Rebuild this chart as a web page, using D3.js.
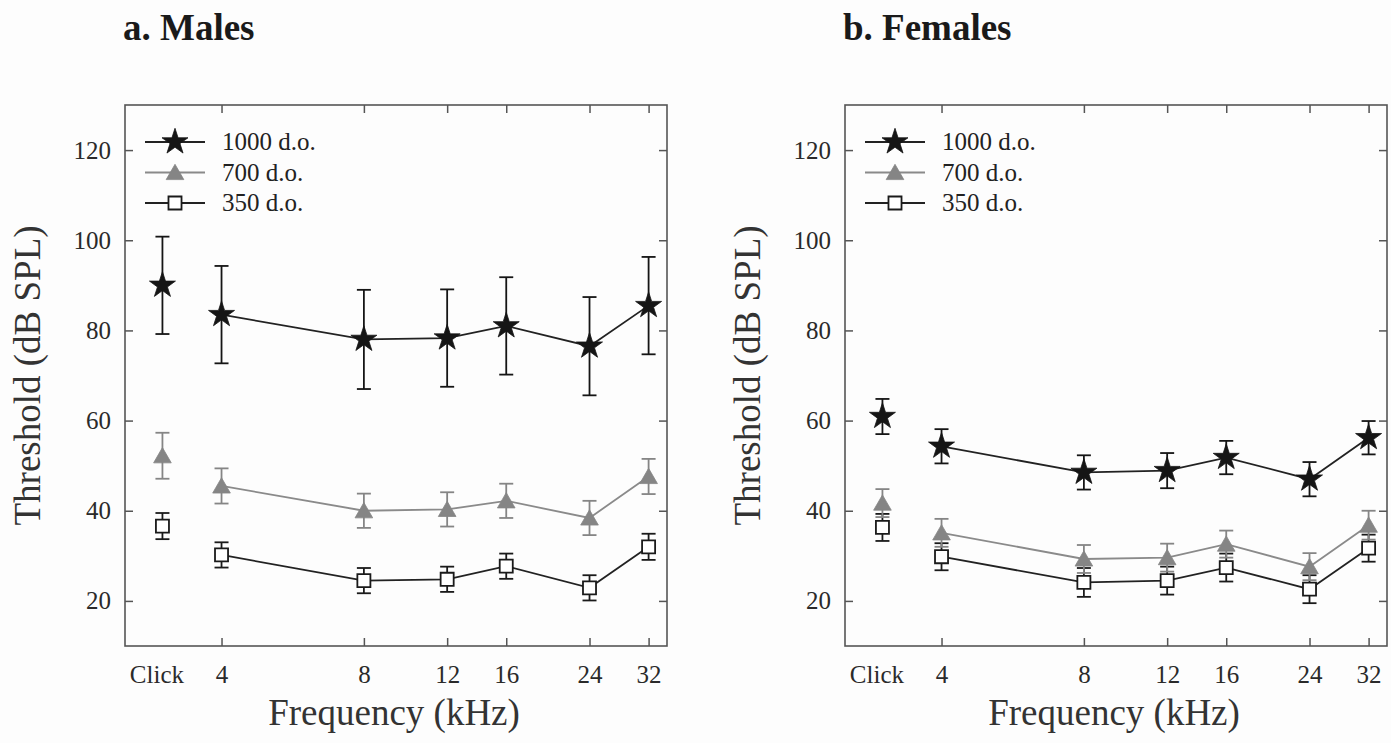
<!DOCTYPE html>
<html>
<head>
<meta charset="utf-8">
<script src="https://cdn.jsdelivr.net/npm/d3@7"></script>
<style>
  html, body { margin: 0; padding: 0; background: #fdfdfd; }
  svg { display: block; }
  text { font-family: 'Liberation Serif', 'Times New Roman', serif; }
</style>
</head>
<body>
<div id="chart"></div>
<script>
// frequencies (kHz); 'Click' sits left of 4 kHz
const FREQ_LABELS = ['Click', '4', '8', '12', '16', '24', '32']
const FREQ_KHZ = [null, 4, 8, 12, 16, 24, 32]
const Y_TICKS = [20, 40, 60, 80, 100, 120]
const SERIES_NAMES = ['1000 d.o.', '700 d.o.', '350 d.o.']

// males
const MALES_1000 = [90, 83.5, 78, 78.3, 81, 76.5, 85.5]
const MALES_1000_ERR = [10.8, 10.8, 11, 10.8, 10.8, 10.9, 10.8]
const MALES_700 = [52.2, 45.5, 40, 40.3, 42.2, 38.4, 47.6]
const MALES_700_ERR = [5.1, 3.9, 3.8, 3.8, 3.8, 3.8, 3.9]
const MALES_350 = [36.6, 30.2, 24.5, 24.8, 27.7, 22.9, 32]
const MALES_350_ERR = [2.9, 2.8, 2.8, 2.8, 2.8, 2.8, 2.9]

// females
const FEMALES_1000 = [60.9, 54.3, 48.5, 48.9, 51.8, 47, 56.2]
const FEMALES_1000_ERR = [3.9, 3.8, 3.8, 3.9, 3.7, 3.8, 3.7]
const FEMALES_700 = [41.7, 35.1, 29.3, 29.6, 32.6, 27.6, 36.8]
const FEMALES_700_ERR = [3.1, 3.1, 3.1, 3.1, 3.0, 3.0, 3.2]
const FEMALES_350 = [36.3, 29.8, 24.1, 24.5, 27.4, 22.6, 31.7]
const FEMALES_350_ERR = [3.0, 3.0, 3.2, 3.1, 3.1, 3.1, 3.0]

const W = 1391
const H = 743
const CLICK_AT = 3 // where the click column sits on the log axis
const PANEL_W = 542
const PANEL_H = 541
const TICK = 8

const STYLES = [
  { color: '#151515', line: '#222', fill: '#151515', symbol: d3.symbolStar, size: 210 },
  { color: '#858585', line: '#8a8a8a', fill: '#858585', symbol: d3.symbolTriangle, size: 135 },
  { color: '#1a1a1a', line: '#222', fill: '#fff', symbol: d3.symbolSquare, size: 170 }
]

const svg = d3.select('#chart')
  .append('svg')
  .attr('width', W)
  .attr('height', H)

svg.append('rect')
  .attr('width', W)
  .attr('height', H)
  .attr('fill', '#fdfdfd')

function drawPanel (left, title, series) {
  const top = 105
  const x = d3.scaleLog().base(2).domain([2.5, 35]).range([0, PANEL_W])
  const y = d3.scaleLinear().domain([10, 130]).range([PANEL_H, 0])
  const xPos = i => x(FREQ_KHZ[i] === null ? CLICK_AT : FREQ_KHZ[i])

  svg.append('text')
    .attr('x', left - 2)
    .attr('y', 40)
    .attr('font-size', 37)
    .attr('font-weight', 'bold')
    .attr('fill', '#1a1a1a')
    .text(title)

  const g = svg.append('g')
    .attr('transform', `translate(${left}, ${top})`)

  // axes, ticks pointing inward
  const bottom = g.append('g')
    .attr('transform', `translate(0, ${PANEL_H})`)
    .call(d3.axisBottom(x)
      .tickValues(FREQ_KHZ.map(d => d === null ? CLICK_AT : d))
      .tickFormat((d, i) => FREQ_LABELS[i])
      .tickSizeInner(-TICK)
      .tickSizeOuter(0)
      .tickPadding(19))
  bottom.selectAll('.tick').filter(d => d === CLICK_AT).select('line').remove()
  bottom.selectAll('.tick').filter(d => d === CLICK_AT).select('text').attr('dx', -6)

  g.append('g')
    .call(d3.axisTop(x)
      .tickValues(FREQ_KHZ.filter(d => d !== null))
      .tickFormat('')
      .tickSizeInner(-TICK)
      .tickSizeOuter(0))

  g.append('g')
    .call(d3.axisLeft(y)
      .tickValues(Y_TICKS)
      .tickSizeInner(-TICK)
      .tickSizeOuter(0)
      .tickPadding(14))

  g.append('g')
    .attr('transform', `translate(${PANEL_W}, 0)`)
    .call(d3.axisRight(y)
      .tickValues(Y_TICKS)
      .tickFormat('')
      .tickSizeInner(-TICK)
      .tickSizeOuter(0))

  g.selectAll('.domain').remove()
  g.selectAll('.tick line').attr('stroke', '#555').attr('stroke-width', 1.5)
  g.selectAll('.tick text')
    .attr('font-size', 25)
    .attr('fill', '#2a2a2a')
    .style('font-family', "'Liberation Serif', serif")

  g.append('rect')
    .attr('width', PANEL_W)
    .attr('height', PANEL_H)
    .attr('fill', 'none')
    .attr('stroke', '#555')
    .attr('stroke-width', 1.6)

  // axis titles
  svg.append('text')
    .attr('transform', `translate(${left - 85}, ${top + PANEL_H / 2}) rotate(-90)`)
    .attr('text-anchor', 'middle')
    .attr('font-size', 37)
    .attr('fill', '#333')
    .text('Threshold (dB SPL)')

  svg.append('text')
    .attr('x', left + PANEL_W / 2 - 2)
    .attr('y', 725)
    .attr('text-anchor', 'middle')
    .attr('font-size', 37)
    .attr('fill', '#333')
    .text('Frequency (kHz)')

  const line = d3.line()
    .x(d => xPos(d.i))
    .y(d => y(d.v))

  // draw bottom series first so the stars stay on top
  series.slice().reverse().forEach(s => {
    const st = STYLES[s.k]
    const pts = s.values.map((v, i) => ({ i, v, e: s.err[i] }))

    g.append('path')
      .datum(pts.filter(d => FREQ_KHZ[d.i] !== null))
      .attr('fill', 'none')
      .attr('stroke', st.line)
      .attr('stroke-width', 1.8)
      .attr('d', line)

    const bars = g.append('g')
      .attr('stroke', st.color)
      .attr('stroke-width', 1.8)
      .selectAll('g')
      .data(pts)
      .join('g')

    bars.append('line')
      .attr('x1', d => xPos(d.i))
      .attr('x2', d => xPos(d.i))
      .attr('y1', d => y(d.v - d.e))
      .attr('y2', d => y(d.v + d.e))
    bars.append('line')
      .attr('x1', d => xPos(d.i) - 7)
      .attr('x2', d => xPos(d.i) + 7)
      .attr('y1', d => y(d.v + d.e))
      .attr('y2', d => y(d.v + d.e))
    bars.append('line')
      .attr('x1', d => xPos(d.i) - 7)
      .attr('x2', d => xPos(d.i) + 7)
      .attr('y1', d => y(d.v - d.e))
      .attr('y2', d => y(d.v - d.e))

    g.append('g')
      .selectAll('path')
      .data(pts)
      .join('path')
      .attr('transform', d => `translate(${xPos(d.i)}, ${y(d.v) + (s.k === 1 ? 2 : 0)})`)
      .attr('d', d3.symbol(st.symbol, st.size))
      .attr('fill', st.fill)
      .attr('stroke', st.color)
      .attr('stroke-width', s.k === 2 ? 1.8 : 0.8)
  })

  // legend
  const legend = g.append('g')
    .attr('transform', 'translate(20, 37)')
  SERIES_NAMES.forEach((name, k) => {
    const st = STYLES[k]
    const row = legend.append('g')
      .attr('transform', `translate(0, ${k * 30.5})`)
    row.append('line')
      .attr('x1', 0)
      .attr('x2', 60)
      .attr('stroke', st.line)
      .attr('stroke-width', 1.8)
    row.append('path')
      .attr('transform', `translate(30, ${k === 1 ? 2 : 0})`)
      .attr('d', d3.symbol(st.symbol, st.size))
      .attr('fill', st.fill)
      .attr('stroke', st.color)
      .attr('stroke-width', k === 2 ? 1.8 : 0.8)
    row.append('text')
      .attr('x', 77)
      .attr('y', 8)
      .attr('font-size', 25)
      .attr('fill', '#222')
      .text(name)
  })
}

drawPanel(125, 'a. Males', [
  { k: 0, values: MALES_1000, err: MALES_1000_ERR },
  { k: 1, values: MALES_700, err: MALES_700_ERR },
  { k: 2, values: MALES_350, err: MALES_350_ERR }
])

drawPanel(845, 'b. Females', [
  { k: 0, values: FEMALES_1000, err: FEMALES_1000_ERR },
  { k: 1, values: FEMALES_700, err: FEMALES_700_ERR },
  { k: 2, values: FEMALES_350, err: FEMALES_350_ERR }
])
</script>
</body>
</html>
